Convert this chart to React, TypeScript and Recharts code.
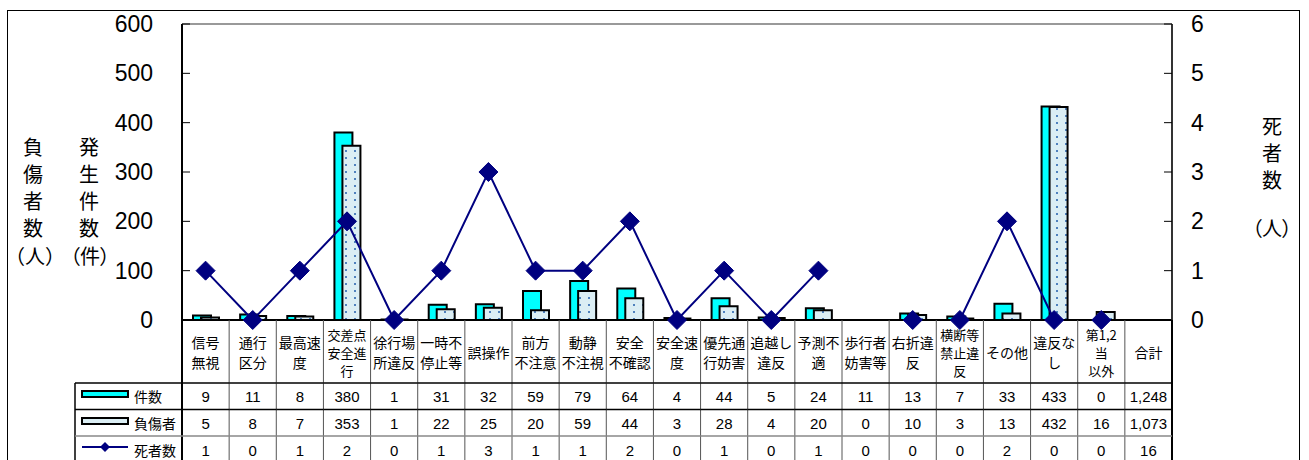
import React from 'react';
import { ComposedChart, Bar, Line, XAxis, YAxis, ReferenceLine } from 'recharts';

const categories = [
  '信号\n無視', '通行\n区分', '最高速\n度', '交差点\n安全進\n行', '徐行場\n所違反', '一時不\n停止等',
  '誤操作', '前方\n不注意', '動静\n不注視', '安全\n不確認', '安全速\n度', '優先通\n行妨害',
  '追越し\n違反', '予測不\n適', '歩行者\n妨害等', '右折違\n反', '横断等\n禁止違\n反', 'その他',
  '違反な\nし', '第1,2\n当\n以外', '合計',
];

// values printed in the table
const casesTable = ['9', '11', '8', '380', '1', '31', '32', '59', '79', '64', '4', '44', '5', '24', '11', '13', '7', '33', '433', '0', '1,248'];
const injuredTable = ['5', '8', '7', '353', '1', '22', '25', '20', '59', '44', '3', '28', '4', '20', '0', '10', '3', '13', '432', '16', '1,073'];
const deathsTable = ['1', '0', '1', '2', '0', '1', '3', '1', '1', '2', '0', '1', '0', '1', '0', '0', '0', '2', '0', '0', '16'];

// values drawn in the plot
const casesBar = [9, 11, 8, 380, 1, 31, 32, 59, 79, 64, 4, 44, 5, 24, null, 13, 7, 33, 433, 0, null];
const injuredBar = [5, 8, 7, 353, 1, 22, 25, 20, 59, 44, 3, 28, 4, 20, null, 10, 3, 13, 432, 16, null];
const deathsLine = [1, 0, 1, 2, 0, 1, 3, 1, 1, 2, 0, 1, 0, 1, null, 0, 0, 2, 0, 0, null];
const deathsTail = [null, null, null, null, null, null, null, null, null, null, null, null, null, null, 0, 0, null, null, null, null, null];

const leftTicks = [0, 100, 200, 300, 400, 500, 600];
const rightTicks = [0, 1, 2, 3, 4, 5, 6];

const data = categories.map((name, i) => ({
  name,
  idx: i,
  cases: casesBar[i],
  injured: injuredBar[i],
  deaths: deathsLine[i],
  deathsTail: deathsTail[i],
}));

// layout
const W = 1309;
const H = 460;
const PLOT_L = 182;
const PLOT_R = 1172;
const PLOT_T = 24;
const X_AXIS_H = 140;
const Y_AXIS_W = 100;
const COL_W = (PLOT_R - PLOT_L) / categories.length;

const JP = "'Noto Sans CJK JP', 'Noto Sans', sans-serif";
const NUM = "'Liberation Sans Narrow', 'Liberation Sans', Arial, sans-serif";
const AX = "'Liberation Sans', Arial, sans-serif";

const Diamond = (props: any) => {
  const { cx, cy, index } = props;
  if (cx == null || cy == null || Number.isNaN(cy)) return <g key={`d${index}`} />;
  const r = 9.5;
  return (
    <path
      key={`d${index}`}
      d={`M${cx},${cy - r}L${cx + r},${cy}L${cx},${cy + r}L${cx - r},${cy}Z`}
      fill="#000080"
      stroke="#000080"
    />
  );
};

const TableTick = (props: any) => {
  const { x, y, payload } = props;
  const i = payload.index;
  const half = COL_W / 2;
  const lines = String(categories[i]).split('\n');
  const n = lines.length;
  const sp = n === 3 ? 18 : 20;
  const fs = n === 3 ? 13 : 14;
  const c = y + 32;
  const last = i === categories.length - 1;
  return (
    <g>
      {i === 0 && <line x1={x - half} x2={x - half} y1={y} y2={y + 145} stroke="#000" strokeWidth={2} />}
      <line x1={x + half} x2={x + half} y1={y} y2={y + 145} stroke={last ? '#000' : '#555'} strokeWidth={last ? 2 : 1} />
      <line x1={x - half} x2={x + half} y1={y + 63} y2={y + 63} stroke="#000" strokeWidth={1.5} />
      <line x1={x - half} x2={x + half} y1={y + 89.5} y2={y + 89.5} stroke="#000" strokeWidth={1.5} />
      <line x1={x - half} x2={x + half} y1={y + 116} y2={y + 116} stroke="#888" strokeWidth={1.5} />
      {lines.map((t, k) => (
        <text
          key={k}
          x={x}
          y={c + (k - (n - 1) / 2) * sp}
          textAnchor="middle"
          dominantBaseline="central"
          fontSize={fs}
          fontFamily={JP}
          fill="#000"
        >
          {t}
        </text>
      ))}
      {[casesTable, injuredTable, deathsTable].map((arr, r) => (
        <text
          key={`v${r}`}
          x={x}
          y={y + 76 + r * 27}
          textAnchor="middle"
          dominantBaseline="central"
          fontSize={15}
          fontFamily={NUM}
          fill="#000"
        >
          {arr[i]}
        </text>
      ))}
    </g>
  );
};

const vChars = (chars: string[], x: number, y0: number, step: number) =>
  chars.map((ch, k) => (
    <text key={ch + k} x={x} y={y0 + k * step} textAnchor="middle" dominantBaseline="central" fontSize={20} fontFamily={JP} fill="#000">
      {ch}
    </text>
  ));

export default function App() {
  return (
    <div style={{ position: 'absolute', left: 0, top: 0, width: W, height: H, overflow: 'hidden', background: '#fff' }}>
      <div style={{ position: 'absolute', left: 7, top: 10, width: 1291, height: 470, border: '1px solid #000' }} />
      <div style={{ position: 'absolute', left: 0, top: 0 }}>
        <ComposedChart
          width={W}
          height={H}
          data={data}
          barGap={-10}
          margin={{ top: PLOT_T, left: PLOT_L - Y_AXIS_W, right: W - PLOT_R - Y_AXIS_W, bottom: 0 }}
        >
          <defs>
            <pattern id="dotsFill" patternUnits="userSpaceOnUse" width="9" height="7">
              <rect width="9" height="7" fill="#dbeef4" />
              <rect x="3" y="3" width="2" height="2" fill="#4f81bd" />
            </pattern>
          </defs>
          <XAxis
            dataKey="name"
            interval={0}
            height={X_AXIS_H}
            tickLine={false}
            tickSize={0}
            tickMargin={0}
            axisLine={{ stroke: '#000', strokeWidth: 2 }}
            tick={(p: any) => <TableTick {...p} />}
          />
          <YAxis
            yAxisId="left"
            orientation="left"
            width={Y_AXIS_W}
            domain={[0, 600]}
            ticks={leftTicks}
            interval={0}
            tickSize={-8}
            tickMargin={37}
            axisLine={{ stroke: '#000', strokeWidth: 2 }}
            tickLine={{ stroke: '#000', strokeWidth: 1 }}
            tick={{ fontSize: 23, fill: '#000', fontFamily: AX }}
          />
          <YAxis
            yAxisId="right"
            orientation="right"
            width={Y_AXIS_W}
            domain={[0, 6]}
            ticks={rightTicks}
            interval={0}
            tickSize={-8}
            tickMargin={27}
            axisLine={{ stroke: '#333', strokeWidth: 2 }}
            tickLine={{ stroke: '#000', strokeWidth: 1 }}
            tick={{ fontSize: 23, fill: '#000', fontFamily: AX }}
          />
          <ReferenceLine yAxisId="left" y={600} stroke="#999" strokeWidth={2} />
          <Bar yAxisId="left" dataKey="cases" barSize={18} fill="#00ffff" stroke="#000" strokeWidth={2} isAnimationActive={false} />
          <Bar yAxisId="left" dataKey="injured" barSize={18} fill="url(#dotsFill)" stroke="#000" strokeWidth={2} isAnimationActive={false} />
          <Line yAxisId="right" dataKey="deathsTail" stroke="#000080" strokeWidth={2} dot={false} connectNulls={false} isAnimationActive={false} />
          <Line yAxisId="right" dataKey="deaths" stroke="#000080" strokeWidth={2} dot={(p: any) => <Diamond {...p} />} connectNulls={false} isAnimationActive={false} />
        </ComposedChart>
      </div>
      <svg width={W} height={H} style={{ position: 'absolute', left: 0, top: 0, pointerEvents: 'none' }}>
        <defs>
          <pattern id="dotsLegend" patternUnits="userSpaceOnUse" width="15" height="7">
            <rect width="15" height="7" fill="#dbeef4" />
            <rect x="7" y="3" width="2" height="1.5" fill="#4f81bd" />
          </pattern>
        </defs>
        {vChars(['負', '傷', '者', '数'], 33, 146, 27)}
        <text x={35} y={255} textAnchor="middle" dominantBaseline="central" fontSize={20} fontFamily={JP}>（人）</text>
        {vChars(['発', '生', '件', '数'], 89, 146, 27)}
        <text x={90} y={255} textAnchor="middle" dominantBaseline="central" fontSize={20} fontFamily={JP} style={{ fontFeatureSettings: '"palt"' }}>（件）</text>
        {vChars(['死', '者', '数'], 1272, 125, 27)}
        <text x={1272} y={227} textAnchor="middle" dominantBaseline="central" fontSize={20} fontFamily={JP} style={{ fontFeatureSettings: '"palt"' }}>（人）</text>
        {/* legend column of the table */}
        <line x1={75} x2={75} y1={383} y2={H} stroke="#000" strokeWidth={1.5} />
        <line x1={75} x2={PLOT_L} y1={383} y2={383} stroke="#000" strokeWidth={1.5} />
        <line x1={75} x2={PLOT_L} y1={409.5} y2={409.5} stroke="#000" strokeWidth={1.5} />
        <line x1={75} x2={PLOT_L} y1={436} y2={436} stroke="#888" strokeWidth={1.5} />
        <rect x={82} y={391} width={46} height={6} fill="#00ffff" stroke="#000" strokeWidth={2} />
        <text x={134} y={396} dominantBaseline="central" fontSize={14} fontFamily={JP}>件数</text>
        <rect x={82} y={418} width={46} height={6} fill="url(#dotsLegend)" stroke="#000" strokeWidth={2} />
        <text x={134} y={423} dominantBaseline="central" fontSize={14} fontFamily={JP}>負傷者</text>
        <line x1={82} x2={128} y1={447} y2={447} stroke="#000080" strokeWidth={2} />
        <path d="M105,442L110,447L105,452L100,447Z" fill="#000080" />
        <text x={134} y={450} dominantBaseline="central" fontSize={14} fontFamily={JP}>死者数</text>
      </svg>
    </div>
  );
}
